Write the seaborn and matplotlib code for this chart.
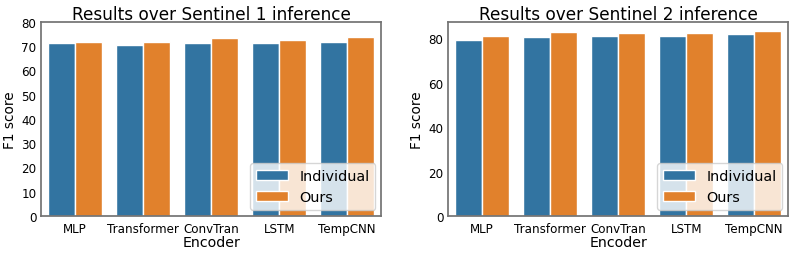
import pandas as pd
import matplotlib.pyplot as plt
import seaborn as sns

encoders = ["MLP", "Transformer", "ConvTran", "LSTM", "TempCNN"]
methods = ["Individual", "Ours"]

s1_individual = [71.1, 70.5, 71.2, 71.2, 71.6]
s1_ours = [71.7, 71.7, 73.3, 72.6, 73.5]
s2_individual = [79.1, 80.6, 81.2, 81.2, 81.9]
s2_ours = [80.9, 82.7, 82.5, 82.2, 83.3]


def to_long(ind, ours):
    return pd.DataFrame({
        "Encoder": encoders * 2,
        "Method": [methods[0]] * len(encoders) + [methods[1]] * len(encoders),
        "F1 score": ind + ours,
    })


sns.set_theme(style="white")
plt.rcParams["font.family"] = ["DejaVu Sans"]
plt.rcParams["axes.edgecolor"] = "0.45"
for key in ["text.color", "axes.labelcolor", "xtick.color", "ytick.color"]:
    plt.rcParams[key] = "black"

fig, axes = plt.subplots(1, 2, figsize=(7.93, 2.55), dpi=100)
panels = [
    (axes[0], to_long(s1_individual, s1_ours), "Results over Sentinel 1 inference"),
    (axes[1], to_long(s2_individual, s2_ours), "Results over Sentinel 2 inference"),
]

for ax, df, title in panels:
    sns.barplot(data=df, x="Encoder", y="F1 score", hue="Method", ax=ax,
                palette=["#1f77b4", "#ff7f0e"], saturation=0.75)
    ax.set_title(title, fontsize=12.2, pad=2)
    ax.set_xlabel("Encoder", fontsize=10.2, labelpad=0)
    ax.set_ylabel("F1 score", fontsize=9.8, labelpad=3)
    ax.tick_params(axis="x", labelsize=8.6, pad=4, length=0)
    ax.tick_params(axis="y", labelsize=8.6, pad=3.5, length=0)
    ax.legend(loc="lower right", fontsize=10.4, framealpha=0.8,
              borderpad=0.4, handlelength=2.2, borderaxespad=0.4)

axes[0].set_ylim(0, 80)
axes[0].set_yticks(range(0, 81, 10))
axes[1].set_yticks(range(0, 81, 20))

plt.subplots_adjust(left=0.052, right=0.994, bottom=0.149, top=0.911, wspace=0.197)
plt.savefig("out.png", dpi=100)
